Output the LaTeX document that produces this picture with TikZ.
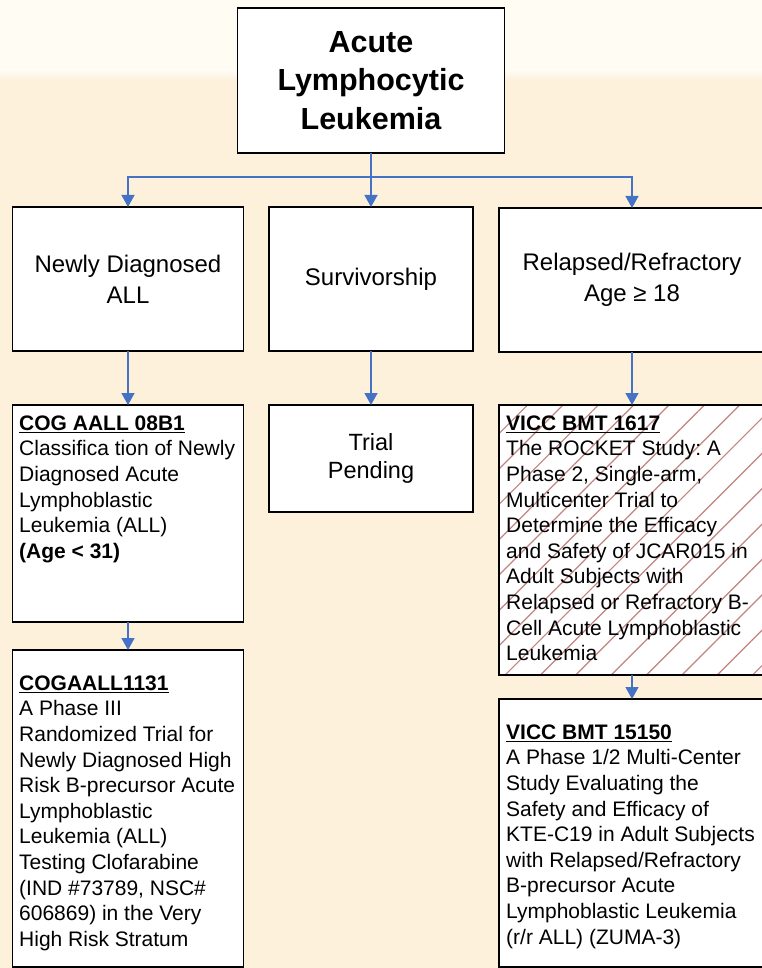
\documentclass[tikz,border=0pt]{standalone}
\usepackage{fontspec}
\setmainfont{Liberation Sans}
\usepackage{tikz}
\usepackage{xcolor}
\usetikzlibrary{arrows.meta, patterns.meta}
\definecolor{ALL_Peach}{HTML}{FDF1DC}
\definecolor{ALL_Cream}{HTML}{FFFCF4}
\definecolor{ALL_Blue}{HTML}{4472C4}
\definecolor{ALL_Hatch}{HTML}{C28480}
\newcommand{\titlefont}{\fontsize{30.5}{38.5}\selectfont\bfseries}
\newcommand{\branchfont}{\fontsize{24}{31}\selectfont}
\newcommand{\trialfont}{\fontsize{21}{25.6}\selectfont\frenchspacing}

\begin{document}
\begin{tikzpicture}[x=1pt, y=-1pt,
    box/.style={draw=black, line width=1.8pt, fill=white, inner sep=0pt, outer sep=0pt},
    hatched/.style={preaction={fill=white}, pattern={Lines[angle=45, distance=25pt, line width=1.2pt]}, pattern color=ALL_Hatch},
    link/.style={ALL_Blue, line width=1.5pt, -{Triangle[width=13pt, length=12pt]}},
    trialtext/.style={anchor=north west, inner sep=0pt, align=left, font=\trialfont}]
    \useasboundingbox (0,0) rectangle (762,968);
    % Background
    \fill[ALL_Peach] (0,0) rectangle (762,968);
    \fill[ALL_Cream] (0,0) rectangle (762,70);
    \shade[top color=ALL_Cream, bottom color=ALL_Peach] (0,70) rectangle (762,80);
    % Top box
    \node[box, minimum width=267, minimum height=145, align=center, font=\titlefont] (acute) at (371,80.5) {Acute\\Lymphocytic\\Leukemia};
    % Branches
    \node[box, minimum width=231, minimum height=144, align=center, font=\branchfont] (newly) at (128,279) {Newly Diagnosed\\ALL};
    \node[box, minimum width=204, minimum height=144, font=\branchfont] (surv) at (371,279) {Survivorship};
    \node[box, minimum width=266, minimum height=144, align=center, font=\branchfont] (relapsed) at (632,280) {Relapsed/Refractory\\Age ≥ 18};
    % Trial boxes
    \node[box, minimum width=231, minimum height=217, anchor=north west] (cog) at (12.5,405) {};
    \node[box, minimum width=204, minimum height=107, align=center, font=\fontsize{23.5}{28}\selectfont] (pending) at (371,458.5) {Trial\\Pending};
    \node[box, hatched, minimum width=266, minimum height=270, anchor=north west] (rocket) at (499,405) {};
    \node[box, minimum width=231, minimum height=317, anchor=north west] (cogb) at (12.5,650) {};
    \node[box, minimum width=266, minimum height=268, anchor=north west] (zuma) at (499,699) {};
    % Trial texts
    \node[trialtext] (cogtext) at (19,415.5) {\underline{\textbf{COG AALL 08B1}}\\Classifica tion of Newly\\Diagnosed Acute\\Lymphoblastic\\Leukemia (ALL)\\\textbf{(Age < 31)}};
    \node[trialtext] (rockettext) at (506,415.5) {\underline{\textbf{VICC BMT 1617}}\\The ROCKET Study: A\\Phase 2, Single-arm,\\Multicenter Trial to\\Determine the Efficacy\\and Safety of JCAR015 in\\Adult Subjects with\\Relapsed or Refractory B-\\Cell Acute Lymphoblastic\\Leukemia};
    \node[trialtext] (cogbtext) at (19,675.5) {\underline{\textbf{COGAALL1131}}\\A Phase III\\Randomized Trial for\\Newly Diagnosed High\\Risk B-precursor Acute\\Lymphoblastic\\Leukemia (ALL)\\Testing Clofarabine\\(IND \#73789, NSC\#\\606869) in the Very\\High Risk Stratum};
    \node[trialtext] (zumatext) at (506,724.5) {\underline{\textbf{VICC BMT 15150}}\\A Phase 1/2 Multi-Center\\Study Evaluating the\\Safety and Efficacy of\\KTE-C19 in Adult Subjects\\with Relapsed/Refractory\\B-precursor Acute\\Lymphoblastic Leukemia\\(r/r ALL) (ZUMA-3)};
    % Connectors
    \coordinate (fork) at (371,177);
    \draw[link] (acute.south) -- (surv.north);
    \draw[link] (fork) -| (newly.north);
    \draw[link] (fork) -| (relapsed.north);
    \draw[link] (newly.south) -- (cog.north);
    \draw[link] (surv.south) -- (pending.north);
    \draw[link] (relapsed.south) -- (rocket.north);
    \draw[link] (cog.south) -- (cogb.north);
    \draw[link] (rocket.south) -- (zuma.north);
\end{tikzpicture}
\end{document}
